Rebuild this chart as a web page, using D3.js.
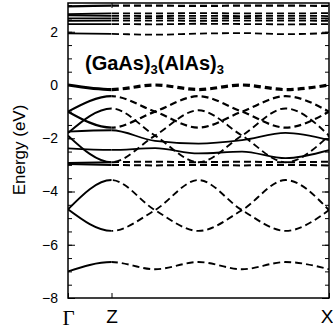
<!DOCTYPE html>
<html><head><meta charset="utf-8">
<script src="https://cdn.jsdelivr.net/npm/d3@7/dist/d3.min.js"></script>
<style>body{margin:0;background:#fff}svg{display:block}</style>
</head><body><svg id="c" width="333" height="329"></svg>
<script>
// k-path positions (Γ=0, Z=1, X=6) and labels
const kPoints = [0, 1, 2, 3, 4, 5, 6];
const kTickValues = [0, 1, 6];
const kTickLabels = ["Γ", "Z", "X"];
const yMajorTicks = [-8, -6, -4, -2, 0, 2];
const yMinorTicks = d3.range(-8, 3.01, 0.5);

// conduction bands (eV at kPoints)
const cb1 = [1.94, 1.92, 1.89, 1.93, 1.95, 1.91, 1.95];
const cb2 = [2.29, 2.29, 2.28, 2.30, 2.29, 2.28, 2.29];
const cb3 = [2.41, 2.42, 2.42, 2.41, 2.42, 2.42, 2.41];
const cb4 = [2.50, 2.50, 2.51, 2.50, 2.51, 2.50, 2.50];
const cb5 = [2.62, 2.60, 2.59, 2.60, 2.59, 2.60, 2.59];
const cb6 = [2.66, 2.69, 2.69, 2.70, 2.69, 2.69, 2.70];
const cb7 = [2.95, 2.98, 2.98, 2.97, 2.98, 2.98, 2.97];

// valence bands
const vbTop = [0.00, -0.17, 0.00, -0.17, 0.00, -0.17, 0.00];
const vbP1 = [-1.00, -0.42, -1.00, -1.60, -1.00, -0.42, -1.00];
const vbP2 = [-1.00, -1.60, -1.00, -0.42, -1.00, -1.60, -1.00];
const vbQ1 = [-1.90, -2.90, -1.90, -0.95, -1.90, -2.90, -1.90];
const vbQ2 = [-1.80, -0.88, -1.90, -2.90, -1.90, -0.88, -1.90];
const vbSa = [-1.75, -1.70, -2.10, -2.20, -2.07, -1.80, -2.07];
const vbSb = [-2.38, -2.44, -2.37, -2.57, -2.50, -2.75, -2.45];
const vbD1 = [-2.93, -2.90, -2.88, -2.90, -2.88, -2.90, -2.88];
const vbD2 = [-2.97, -3.00, -3.02, -3.00, -3.02, -3.00, -3.02];

// lower bands
const lbA = [-4.67, -3.57, -4.70, -5.48, -4.70, -3.57, -4.70];
const lbB = [-4.67, -5.48, -4.70, -3.57, -4.70, -5.48, -4.70];
const lbS = [-7.00, -6.65, -6.92, -6.65, -6.92, -6.65, -6.92];

const allBands = [cb1, cb2, cb3, cb4, cb5, cb6, cb7,
  vbTop, vbP1, vbP2, vbQ1, vbQ2, vbSa, vbSb, vbD1, vbD2, lbA, lbB, lbS];
// styling (separate from data)
const bandWidths = [1.8, 1.8, 1.8, 1.8, 1.8, 1.8, 2.2,
  3.2, 2.2, 2.2, 1.9, 1.9, 1.8, 1.8, 2, 2, 1.9, 1.9, 1.9];
const zxSolid = [false, false, false, false, false, false, false,
  false, false, false, false, false, true, true, false, false, false, false, false];

const svg = d3.select("#c");
const L = 68, R = 329, T = 3, B = 298;
const x = d3.scaleLinear().domain([0, 6]).range([L, R]);
const y = d3.scaleLinear().domain([-8, 3.08]).range([B, T]);

const defs = svg.append("defs");
defs.append("clipPath").attr("id", "cgz").append("rect")
  .attr("x", x(0)).attr("y", T).attr("width", x(1) - x(0)).attr("height", B - T);
defs.append("clipPath").attr("id", "czx").append("rect")
  .attr("x", x(1)).attr("y", T).attr("width", x(6) - x(1)).attr("height", B - T);

const line = d3.line().x((d, i) => x(kPoints[i])).y(d => y(d)).curve(d3.curveMonotoneX);

const gBands = svg.append("g");
allBands.forEach((b, i) => {
  gBands.append("path").attr("d", line(b)).attr("clip-path", "url(#cgz)")
    .attr("fill", "none").attr("stroke", "#000").attr("stroke-width", bandWidths[i]);
  gBands.append("path").attr("d", line(b)).attr("clip-path", "url(#czx)")
    .attr("fill", "none").attr("stroke", "#000").attr("stroke-width", bandWidths[i])
    .attr("stroke-dasharray", zxSolid[i] ? null : "7,4");
});

// axes
const font = "'Liberation Sans', Arial, sans-serif";
const gLeft = svg.append("g").attr("transform", `translate(${L},0)`)
  .call(d3.axisLeft(y).tickValues(yMajorTicks).tickSize(-7).tickPadding(10).tickFormat(d3.format("d")));
gLeft.select(".domain").remove();
gLeft.selectAll("text").attr("font-family", font).attr("font-size", 14).attr("fill", "#000");
const gLeftMinor = svg.append("g").attr("transform", `translate(${L},0)`)
  .call(d3.axisLeft(y).tickValues(yMinorTicks).tickSize(-4).tickFormat(""));
gLeftMinor.select(".domain").remove();
const gRight = svg.append("g").attr("transform", `translate(${R},0)`)
  .call(d3.axisRight(y).tickValues(yMajorTicks).tickSize(-7).tickFormat(""));
gRight.select(".domain").remove();
const gRightMinor = svg.append("g").attr("transform", `translate(${R},0)`)
  .call(d3.axisRight(y).tickValues(yMinorTicks).tickSize(-4).tickFormat(""));
gRightMinor.select(".domain").remove();

const gBottom = svg.append("g").attr("transform", `translate(0,${B})`)
  .call(d3.axisBottom(x).tickValues(kTickValues).tickSize(-5).tickPadding(12)
    .tickFormat((d, i) => kTickLabels[i]));
gBottom.select(".domain").remove();
gBottom.selectAll("text").attr("font-family", font).attr("font-size", 19).attr("fill", "#000");
gBottom.selectAll("text").filter((d, i) => i === 0).attr("font-family", "'Liberation Serif', serif").attr("font-size", 21);
gBottom.selectAll("text").filter((d, i) => i === 2).attr("text-anchor", "end").attr("dx", 4);
const gTop = svg.append("g").attr("transform", `translate(0,${T})`)
  .call(d3.axisTop(x).tickValues([1]).tickSize(-5).tickFormat(""));
gTop.select(".domain").remove();
svg.selectAll(".tick line").attr("stroke", "#000").attr("stroke-width", 1);

svg.append("rect").attr("x", L).attr("y", T).attr("width", R - L).attr("height", B - T)
  .attr("fill", "none").attr("stroke", "#000").attr("stroke-width", 1.5);

svg.append("text").attr("transform", "translate(25,150) rotate(-90)")
  .attr("text-anchor", "middle").attr("font-family", font).attr("font-size", 17)
  .text("Energy (eV)");

const title = svg.append("text").attr("x", 85).attr("y", 70)
  .attr("font-family", font).attr("font-size", 20).attr("font-weight", "bold");
title.append("tspan").text("(GaAs)");
title.append("tspan").attr("font-size", 13).attr("dy", 4).text("3");
title.append("tspan").attr("dy", -4).text("(AlAs)");
title.append("tspan").attr("font-size", 13).attr("dy", 4).text("3");
</script></body></html>
